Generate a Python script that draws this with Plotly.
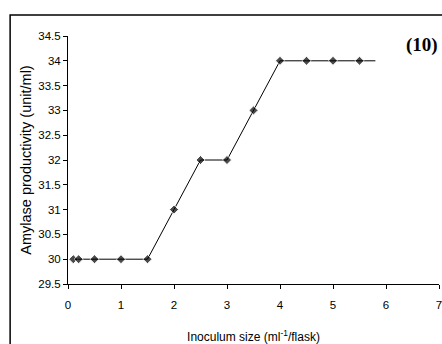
import plotly.graph_objects as go

inoculum = [0.1, 0.2, 0.5, 1, 1.5, 2, 2.5, 3, 3.5, 4, 4.5, 5, 5.5, 5.8]
productivity = [30, 30, 30, 30, 30, 31, 32, 32, 33, 34, 34, 34, 34, 34]
marker_sizes = [7] * 13 + [0]

fig = go.Figure()
fig.add_trace(go.Scatter(
    x=inoculum, y=productivity, mode="lines+markers",
    line=dict(color="black", width=1),
    marker=dict(symbol="diamond", size=marker_sizes, color="black"),
    showlegend=False, cliponaxis=False,
))

fig.update_layout(
    width=442, height=344,
    margin=dict(l=68, r=3, t=36, b=60),
    paper_bgcolor="white", plot_bgcolor="white",
    font=dict(family="Liberation Sans, Arial", color="black", size=11),
    xaxis=dict(
        range=[0, 7], tickvals=[0, 1, 2, 3, 4, 5, 6, 7],
        showline=True, linecolor="black", linewidth=1,
        ticks="outside", ticklen=4, tickcolor="black",
        showgrid=False, zeroline=False, automargin=False,
        tickfont=dict(size=11.5), ticklabelstandoff=6, ticklabeloverflow="allow",
        title=dict(text="Inoculum size (ml<sup>-1</sup>/flask)", font=dict(size=12), standoff=30),
    ),
    yaxis=dict(
        range=[29.5, 34.5], tickvals=[29.5, 30, 30.5, 31, 31.5, 32, 32.5, 33, 33.5, 34, 34.5],
        ticktext=["29.5", "30", "30.5", "31", "31.5", "32", "32.5", "33", "33.5", "34", "34.5"],
        showline=True, linecolor="black", linewidth=1,
        ticks="outside", ticklen=4, tickcolor="black",
        showgrid=False, zeroline=False, automargin=False,
        tickfont=dict(size=11.5),
        title=dict(text="Amylase productivity (unit/ml)", font=dict(size=14.5), standoff=3),
    ),
    shapes=[dict(type="rect", xref="paper", yref="paper",
                 x0=-0.156, x1=1.2, y0=-0.4, y1=1.085,
                 line=dict(color="black", width=1.5), layer="above")],
    annotations=[dict(text="<b>(10)</b>", xref="paper", yref="paper",
                      x=0.954, y=0.963, xanchor="center", yanchor="middle", showarrow=False,
                      font=dict(family="Liberation Serif, Times New Roman", size=19, color="black"))],
)

fig.write_html("out.html", post_script="document.body.style.margin='0';",
               config={"displayModeBar": False})
